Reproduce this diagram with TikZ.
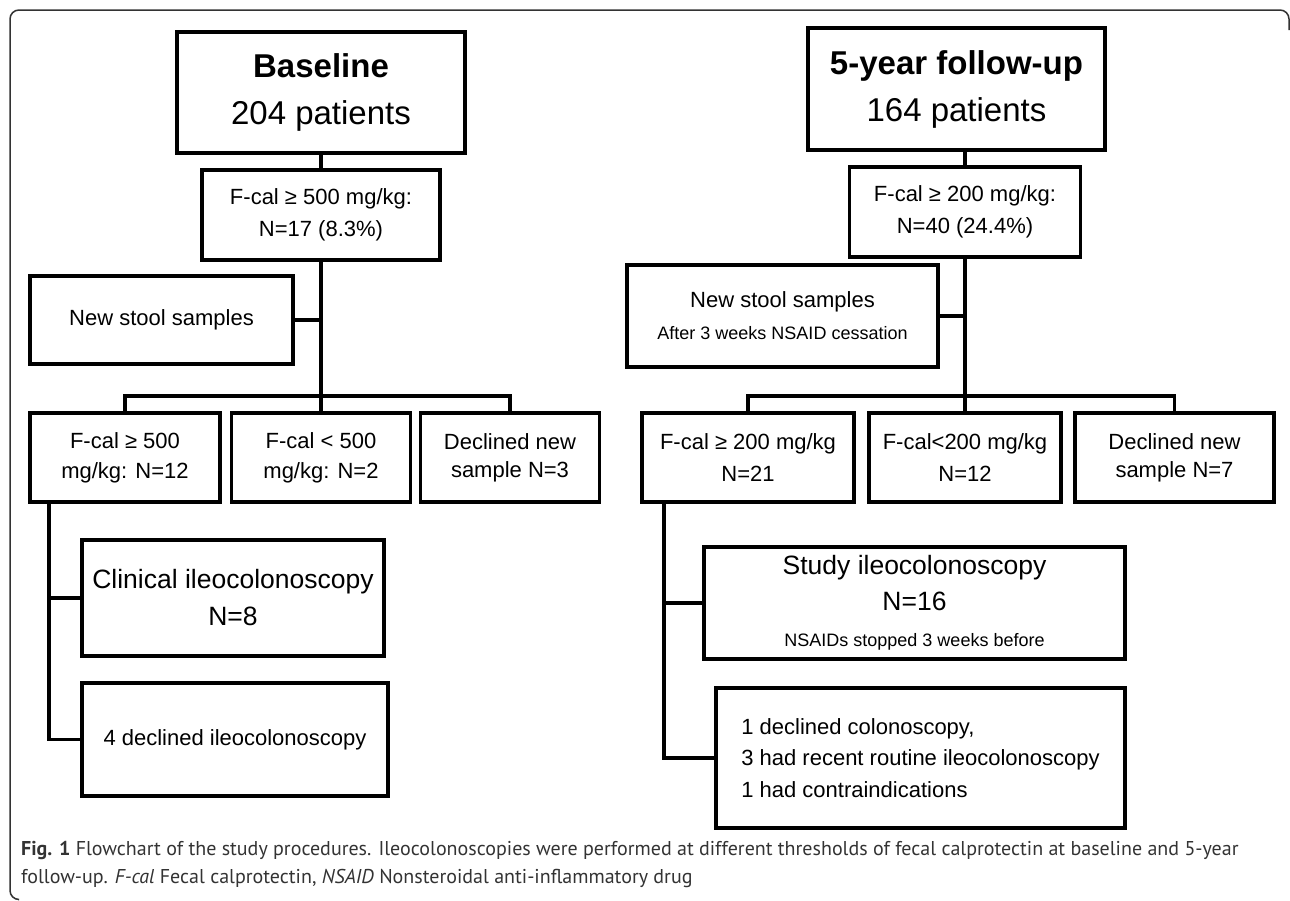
\documentclass[tikz,border=0pt]{standalone}
\usepackage{fontspec}
\setmainfont{Liberation Sans}
\newfontfamily\capfont{PT Sans}
\newcommand{\fsz}[2]{\fontsize{#1}{#2}\selectfont}
\begin{document}
\begin{tikzpicture}[x=1pt,y=-1pt,
  box/.style={draw, rectangle, line width=3.5pt, inner sep=0pt, align=center, font=\fsz{22}{31}},
  conn/.style={line width=3.5pt},
  captext/.style={anchor=west, inner sep=0pt, text=black!80, font=\capfont\fsz{20}{24}}]
\useasboundingbox (0,0) rectangle (1290,900);
% frame
\draw[line width=1.5pt, black!80, rounded corners=9pt] (18,899.5) -- (10,899.5) -- (10,10) -- (1289,10) -- (1289,30);
\coordinate (bus) at (0,396);
% ---------- left: baseline ----------
\node[box, minimum width=288, minimum height=121, font=\fsz{33}{47}] (B0) at (321,92.5) {\textbf{Baseline}\\204 patients};
\node[box, minimum width=238, minimum height=90, font=\fsz{22}{32}] (F0) at (321,215) {F-cal ≥ 500 mg/kg:\\N=17 (8.3\%)};
\node[box, minimum width=263, minimum height=88] (NS1) at (161.5,320) {New stool samples};
\node[box, minimum width=190, minimum height=89, font=\fsz{22}{30}] (B1) at (125,457.5) {F-cal ≥ 500\\mg/kg: N=12};
\node[box, minimum width=179, minimum height=89, font=\fsz{22}{30}] (B2) at (321,457.5) {F-cal < 500\\mg/kg: N=2};
\node[box, minimum width=179, minimum height=89, font=\fsz{22}{28}] (B3) at (510,457.5) {Declined new\\sample N=3};
\node[box, minimum width=302, minimum height=116, font=\fsz{26.5}{37}] (C1) at (233,598) {Clinical ileocolonoscopy\\N=8};
\node[box, minimum width=306, minimum height=113] (D1) at (235,739.5) {4 declined ileocolonoscopy};
\coordinate (t1) at (49,502);
\draw[conn] (B0) -- (F0);
\draw[conn] (F0) -- (B2);
\draw[conn] (NS1.east) -- (NS1.east -| F0.south);
\draw[conn] (B1.north) -- (B1.north |- bus) -- (B3.north |- bus) -- (B3.north);
\draw[conn] (t1) |- (D1.west);
\draw[conn] (t1 |- C1.west) -- (C1.west);
% ---------- right: follow-up ----------
\node[box, minimum width=297, minimum height=122, font=\fsz{33}{47}] (B5) at (956.5,89) {\textbf{5-year follow-up}\\164 patients};
\node[box, minimum width=231, minimum height=90, font=\fsz{22}{32}] (F5) at (965,212) {F-cal ≥ 200 mg/kg:\\N=40 (24.4\%)};
\node[box, minimum width=311, minimum height=102, font=\fsz{22}{32}] (NS2) at (782.5,316) {New stool samples\\{\fsz{18}{32}After 3 weeks NSAID cessation}};
\node[box, minimum width=212, minimum height=89, font=\fsz{22}{32}] (R1) at (748,457.5) {F-cal ≥ 200 mg/kg\\N=21};
\node[box, minimum width=192, minimum height=89, font=\fsz{22}{32}] (R2) at (965,457.5) {F-cal<200 mg/kg\\N=12};
\node[box, minimum width=199, minimum height=89, font=\fsz{22}{28}] (R3) at (1174.5,457.5) {Declined new\\sample N=7};
\node[box, minimum width=421, minimum height=112, font=\fsz{26.5}{36}] (S1) at (914.5,603) {Study ileocolonoscopy\\N=16\\{\fsz{18}{36}NSAIDs stopped 3 weeks before}};
\node[box, minimum width=409, minimum height=140, align=left, font=\fsz{22}{31.5}] (E1) at (920.5,758) {1 declined colonoscopy,\\3 had recent routine ileocolonoscopy\\1 had contraindications};
\coordinate (t2) at (664,502);
\draw[conn] (F5.north) -- (F5.north |- B5.south);
\draw[conn] (F5) -- (R2);
\draw[conn] (NS2.east) -- (NS2.east -| F5.south);
\draw[conn] (R1.north) -- (R1.north |- bus) -- (R3.north |- bus) -- (R3.north);
\draw[conn] (t2) |- (E1.west);
\draw[conn] (t2 |- S1.west) -- (S1.west);
% ---------- caption ----------
\node[captext] (cap1) at (21,850) {\textbf{Fig. 1} Flowchart of the study procedures. Ileocolonoscopies were performed at different thresholds of fecal calprotectin at baseline and 5-year};
\node[captext] (cap2) at (21,878) {follow-up. \textit{F-cal} Fecal calprotectin, \textit{NSAID} Nonsteroidal anti-inflammatory drug};
\end{tikzpicture}
\end{document}
